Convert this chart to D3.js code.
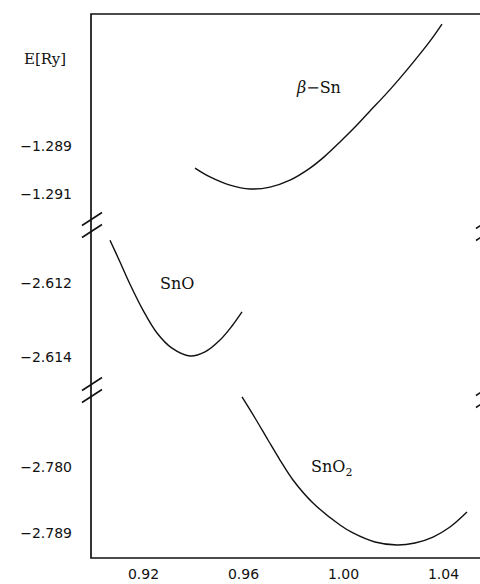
<!DOCTYPE html>
<html>
<head>
<meta charset="utf-8">
<script src="https://cdn.jsdelivr.net/npm/d3@7"></script>
<style>
  body { margin: 0; background: #fff; }
  .tick text { font-family: "DejaVu Sans", sans-serif; font-size: 14px; fill: #111; }
  .lbl { font-family: "DejaVu Serif", serif; font-size: 16px; fill: #111; }
</style>
</head>
<body>
<script>

var svgWidth = 480;
var svgHeight = 584;

// x ticks (lattice ratio)
var xTicks = [0.92, 0.96, 1.00, 1.04];

// y ticks for the three broken segments
var betaSnTicks = [-1.289, -1.291];
var snoTicks = [-2.612, -2.614];
var sno2Ticks = [-2.780, -2.789];

// beta-Sn curve
var betaSnX = [0.9408, 0.9468, 0.9548, 0.9628, 0.9708, 0.9788, 0.9868, 0.9928, 0.9988, 1.0048, 1.0108, 1.0168, 1.0228, 1.0288, 1.0348, 1.0396];
var betaSnE = [-1.28992, -1.29029, -1.29063, -1.29079, -1.29071, -1.29042, -1.28992, -1.28942, -1.28883, -1.28821, -1.28754, -1.28688, -1.28617, -1.28542, -1.28463, -1.28392];

// SnO curve
var snoX = [0.9068, 0.9108, 0.9148, 0.9200, 0.9256, 0.9316, 0.9388, 0.9448, 0.9508, 0.9556, 0.9596];
var snoE = [-2.61084, -2.61143, -2.61203, -2.61273, -2.61335, -2.61376, -2.61397, -2.61386, -2.61354, -2.61316, -2.61278];

// SnO2 curve
var sno2X = [0.9596, 0.9648, 0.9700, 0.9748, 0.9800, 0.9880, 0.9988, 1.0040, 1.0128, 1.0216, 1.0288, 1.0360, 1.0428, 1.0496];
var sno2E = [-2.77045, -2.77332, -2.77632, -2.77905, -2.78177, -2.78491, -2.78791, -2.78900, -2.79023, -2.79064, -2.79036, -2.78955, -2.78818, -2.78614];

var plotLeft = 91, plotRight = 486, plotTop = 14, plotBottom = 558;
var break1 = 225, break2 = 390;

var svg = d3.select("body")
  .append("svg")
  .attr("width", svgWidth)
  .attr("height", svgHeight);

var xScale = d3.scaleLinear().domain([0.8992, 1.0572]).range([plotLeft, plotRight]);

var y1 = d3.scaleLinear().domain([-1.29229, -1.2835]).range([break1, plotTop]);
var y2 = d3.scaleLinear().domain([-2.61489, -2.61043]).range([break2, break1]);
var y3 = d3.scaleLinear().domain([-2.79241, -2.7695]).range([plotBottom, break2]);

var fmt = d3.format(".3f");

// bottom axis
var bottomAxis = d3.axisBottom(xScale)
  .tickValues(xTicks)
  .tickFormat(d3.format(".2f"))
  .tickSize(0)
  .tickPadding(11);

var xg = svg.append("g")
  .attr("transform", `translate(0, ${plotBottom})`)
  .call(bottomAxis);
xg.select(".domain").remove();

// left axis labels, one per segment
[[y1, betaSnTicks], [y2, snoTicks], [y3, sno2Ticks]].forEach(function(s) {
  var g = svg.append("g")
    .attr("transform", `translate(${plotLeft}, 0)`)
    .call(d3.axisLeft(s[0]).tickValues(s[1]).tickFormat(fmt).tickSize(0).tickPadding(19));
  g.select(".domain").remove();
});

// frame: left, top, bottom
svg.append("path")
  .attr("d", `M${plotRight},${plotTop}H${plotLeft}V${plotBottom}H${plotRight}`)
  .attr("fill", "none")
  .attr("stroke", "#111")
  .attr("stroke-width", 1.7);

// axis break marks
function breakMark(cx, cy) {
  [-6, 6].forEach(function(off) {
    svg.append("line")
      .attr("x1", cx - 10).attr("y1", cy + off + 6.5)
      .attr("x2", cx + 10).attr("y2", cy + off - 6.5)
      .attr("stroke", "#111")
      .attr("stroke-width", 1.6);
  });
}
breakMark(plotLeft + 1, break1);
breakMark(plotLeft + 1, break2);
breakMark(plotRight, break1 + 3);
breakMark(plotRight, break2 + 5);

// curves
function drawCurve(xs, es, yScale) {
  var pts = xs.map(function(d, i) { return [d, es[i]]; });
  svg.append("path")
    .datum(pts)
    .attr("fill", "none")
    .attr("stroke", "#111")
    .attr("stroke-width", 1.4)
    .attr("d", d3.line()
      .x(function(d) { return xScale(d[0]); })
      .y(function(d) { return yScale(d[1]); })
      .curve(d3.curveCatmullRom));
}
drawCurve(betaSnX, betaSnE, y1);
drawCurve(snoX, snoE, y2);
drawCurve(sno2X, sno2E, y3);

// labels
svg.append("text")
  .attr("class", "lbl")
  .attr("x", 24).attr("y", 64)
  .style("font-size", "15px")
  .text("E[Ry]");

var b = svg.append("text").attr("class", "lbl").attr("x", 297).attr("y", 93);
b.append("tspan").style("font-style", "italic").text("β");
b.append("tspan").text("−Sn");

svg.append("text")
  .attr("class", "lbl")
  .attr("x", 160).attr("y", 289)
  .text("SnO");

var s2 = svg.append("text").attr("class", "lbl").attr("x", 311).attr("y", 472);
s2.append("tspan").text("SnO");
s2.append("tspan").attr("dy", 4).style("font-size", "11px").text("2");

</script>
</body>
</html>
